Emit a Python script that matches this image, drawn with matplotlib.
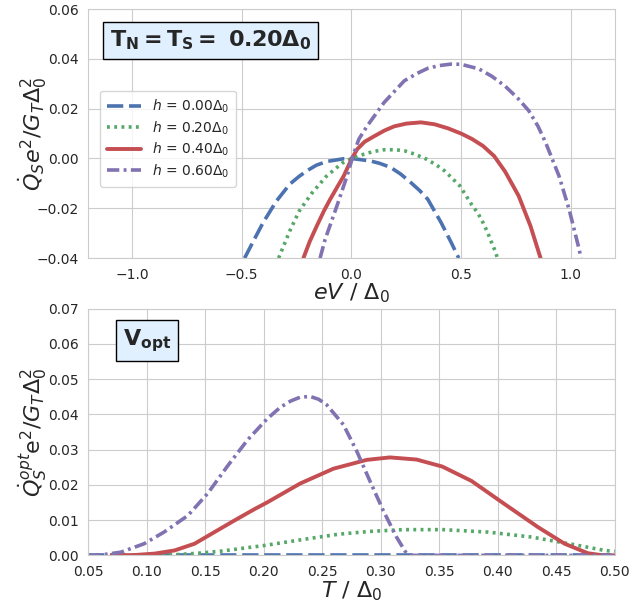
import numpy as np
import matplotlib
matplotlib.use("Agg")
import matplotlib.pyplot as plt
import seaborn as sns

sns.set_style("whitegrid")
plt.rcParams["font.family"] = ["DejaVu Sans"]

BLUE = "#4C72B0"
GREEN = "#55A868"
RED = "#C44E52"
PURPLE = "#8172B2"

H_LABELS = [r"$h$ = 0.00$\Delta_0$", r"$h$ = 0.20$\Delta_0$",
            r"$h$ = 0.40$\Delta_0$", r"$h$ = 0.60$\Delta_0$"]

# top panel: heat current vs bias, T_N = T_S = 0.2
ev_h0 = [-0.487, -0.44, -0.403, -0.342, -0.281, -0.24, -0.204, -0.16, -0.112, -0.035, 0.0, 0.087, 0.13,
         0.179, 0.225, 0.271, 0.31, 0.348, 0.409, 0.455, 0.489]
q_h0 = [-0.040, -0.032, -0.0258, -0.0171, -0.0103, -0.0073, -0.005, -0.0027, -0.0012, -0.0001, 0.0, -0.001,
        -0.002, -0.0036, -0.0063, -0.0097, -0.0128, -0.0164, -0.0258, -0.0338, -0.040]

ev_h2 = [-0.332, -0.319, -0.281, -0.238, -0.181, -0.115, -0.043, 0.0, 0.057, 0.10, 0.149, 0.20, 0.241, 0.29,
         0.34, 0.385, 0.425, 0.494, 0.547, 0.578, 0.601, 0.621, 0.639, 0.658, 0.665]
q_h2 = [-0.040, -0.0372, -0.0291, -0.0211, -0.014, -0.0072, -0.0019, 0.0, 0.0017, 0.0028, 0.0035, 0.0035,
        0.0031, 0.0017, -0.0002, -0.0025, -0.005, -0.011, -0.0184, -0.0222, -0.026, -0.0298, -0.0338,
        -0.0378, -0.040]

ev_h4 = [-0.219, -0.19, -0.158, -0.125, -0.097, -0.065, -0.035, 0.0, 0.026, 0.06, 0.103, 0.15, 0.195, 0.25,
         0.317, 0.38, 0.44, 0.50, 0.55, 0.60, 0.65, 0.70, 0.762, 0.816, 0.862]
q_h4 = [-0.040, -0.0333, -0.0271, -0.021, -0.0164, -0.0115, -0.007, -0.0003, 0.0037, 0.0067, 0.0089,
        0.0112, 0.0129, 0.014, 0.0145, 0.0137, 0.0121, 0.010, 0.0078, 0.005, 0.001, -0.0052, -0.015,
        -0.0271, -0.040]

ev_h6 = [-0.143, -0.12, -0.066, -0.02, 0.0, 0.011, 0.034, 0.072, 0.149, 0.241, 0.30, 0.348, 0.40, 0.455,
         0.50, 0.58, 0.64, 0.701, 0.76, 0.808, 0.85, 0.885, 0.946, 0.992, 1.038, 1.046]
q_h6 = [-0.040, -0.0325, -0.019, -0.007, -0.001, 0.0022, 0.0078, 0.0131, 0.0225, 0.0312, 0.0342, 0.0362,
        0.0373, 0.0379, 0.0378, 0.036, 0.033, 0.029, 0.024, 0.0192, 0.013, 0.0064, -0.007, -0.0204,
        -0.0365, -0.040]

# bottom panel: heat current at optimal bias vs temperature
t_h0 = [0.05, 0.10, 0.20, 0.30, 0.40, 0.50]
qo_h0 = [0.0, 0.0, 0.0, 0.0, 0.0, 0.0]

t_h2 = [0.107, 0.125, 0.1437, 0.1635, 0.182, 0.2005, 0.2354, 0.2639, 0.2908, 0.3192, 0.3533, 0.3919,
        0.4288, 0.4643, 0.4913, 0.50]
qo_h2 = [0.0, 0.0002, 0.0006, 0.0012, 0.002, 0.0028, 0.0046, 0.006, 0.0068, 0.0073, 0.0073, 0.0066,
         0.0052, 0.0031, 0.0014, 0.0011]

t_h4 = [0.07, 0.09, 0.1068, 0.1238, 0.1409, 0.1579, 0.175, 0.192, 0.2028, 0.2312, 0.2596, 0.288, 0.3078,
        0.3306, 0.3527, 0.3777, 0.4061, 0.4345, 0.4572, 0.4771, 0.49, 0.50]
qo_h4 = [0.0, 0.0001, 0.0005, 0.0014, 0.0033, 0.0066, 0.0099, 0.0131, 0.015, 0.0204, 0.0246, 0.0271,
         0.0278, 0.0272, 0.0252, 0.0211, 0.0145, 0.008, 0.0033, 0.0006, 0.0, 0.0]

t_h6 = [0.05, 0.055, 0.065, 0.0779, 0.0978, 0.1148, 0.1352, 0.1522, 0.1692, 0.1863, 0.2028, 0.2141, 0.223,
        0.2312, 0.2397, 0.247, 0.2539, 0.2681, 0.2795, 0.2908, 0.3022, 0.3135, 0.3221, 0.326, 0.40, 0.50]
qo_h6 = [0.0, 0.0, 0.0003, 0.0009, 0.0033, 0.0066, 0.0113, 0.0176, 0.0254, 0.0328, 0.0387, 0.042, 0.0438,
         0.0449, 0.0451, 0.0443, 0.0427, 0.0371, 0.0296, 0.0211, 0.0127, 0.0052, 0.0005, 0.0, 0.0, 0.0]

styles = [
    dict(color=BLUE, lw=2.6, dashes=(4.5, 1.6)),
    dict(color=GREEN, lw=2.6, dashes=(0.8, 1.2)),
    dict(color=RED, lw=2.8, linestyle="-"),
    dict(color=PURPLE, lw=2.6, dashes=(3.4, 1.2, 0.8, 1.2)),
]

fig = plt.figure(figsize=(6.39, 6.03), dpi=100)
ax1 = fig.add_axes([0.138, 0.572, 0.824, 0.413])
ax2 = fig.add_axes([0.138, 0.079, 0.824, 0.409])

top_data = [(ev_h0, q_h0), (ev_h2, q_h2), (ev_h4, q_h4), (ev_h6, q_h6)]
for (x, y), st, lab in zip(top_data, styles, H_LABELS):
    ax1.plot(x, y, label=lab, solid_joinstyle="round", **st)

ax1.set_xlim(-1.2, 1.2)
ax1.set_ylim(-0.04, 0.06)
ax1.set_xticks([-1.0, -0.5, 0.0, 0.5, 1.0])
ax1.set_yticks([-0.04, -0.02, 0.0, 0.02, 0.04, 0.06])
ax1.set_xlabel(r"$eV\ /\ \Delta_0$", fontsize=16, labelpad=0)
ax1.set_ylabel(r"$\dot{Q}_S e^2/G_T\Delta_0^2$", fontsize=16)
ax1.yaxis.set_label_coords(-0.075, 0.5)
ax1.tick_params(labelsize=10)
ax1.legend(loc="upper left", bbox_to_anchor=(0.01, 0.70), fontsize=10, frameon=True,
           handlelength=2.4, borderpad=0.5, labelspacing=0.3)
ax1.text(0.233, 0.875, r"$\mathbf{T_N = T_S =\ 0.20\Delta_0}$", transform=ax1.transAxes,
         fontsize=16, ha="center", va="center",
         bbox=dict(boxstyle="square,pad=0.3", facecolor="#e0f0ff", edgecolor="black"))

bottom_data = [(t_h0, qo_h0), (t_h2, qo_h2), (t_h4, qo_h4), (t_h6, qo_h6)]
for (x, y), st in zip(bottom_data, styles):
    ax2.plot(x, y, solid_joinstyle="round", **st)

ax2.set_xlim(0.05, 0.50)
ax2.set_ylim(0.0, 0.07)
ax2.set_xticks(np.arange(0.05, 0.501, 0.05))
ax2.set_yticks(np.arange(0.0, 0.0701, 0.01))
ax2.set_xlabel(r"$T\ /\ \Delta_0$", fontsize=16, labelpad=0)
ax2.set_ylabel(r"$\dot{Q}_S^{opt}\mathrm{e}^2/G_T\Delta_0^2$", fontsize=16)
ax2.yaxis.set_label_coords(-0.075, 0.5)
ax2.tick_params(labelsize=10)
ax2.text(0.112, 0.871, r"$\mathbf{V_{opt}}$", transform=ax2.transAxes,
         fontsize=16, ha="center", va="center",
         bbox=dict(boxstyle="square,pad=0.3", facecolor="#e0f0ff", edgecolor="black"))

fig.savefig("out.png", dpi=100)
